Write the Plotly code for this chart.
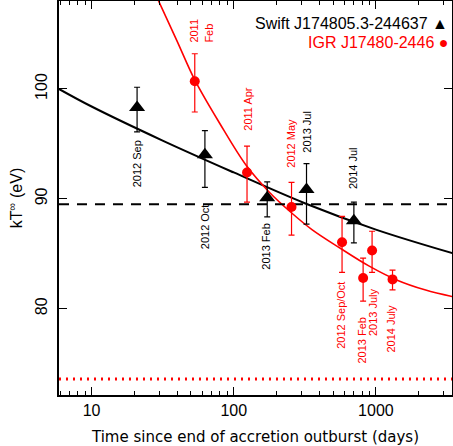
import math
import plotly.graph_objects as go

# ---- data ----
swift_days = [20.9, 62.7, 172, 325, 700]
swift_kT = [98.3, 94.0, 90.1, 90.85, 88.0]
swift_err_plus = [1.85, 2.2, 1.45, 2.35, 1.7]
swift_err_minus = [2.2, 2.95, 1.75, 3.15, 2.0]
swift_labels = ["2012 Sep", "2012 Oct", "2013 Feb", "2013 Jul", "2014 Jul"]

igr_days = [53.2, 124, 255, 578, 813, 940, 1309]
igr_kT = [100.7, 92.4, 89.25, 86.05, 82.8, 85.3, 82.67]
igr_err_plus = [2.5, 2.4, 2.25, 2.35, 1.8, 1.75, 0.85]
igr_err_minus = [2.8, 2.7, 2.55, 2.75, 2.1, 2.0, 0.95]
igr_labels = ["2011<br>Feb", "2011 Apr", "2012 May", "2012 Sep/Oct", "2013 Feb", "2013 July", "2014 July"]

# fitted cooling curves
swift_fit_days = [5.89, 10, 31.6, 100, 316, 1000, 3467]
swift_fit_kT = [100.0, 98.4, 95.3, 92.4, 89.6, 87.2, 85.05]
igr_fit_days = [28.2, 39.8, 53.3, 79.4, 123, 178, 251, 355, 562, 891, 1413, 2239, 3467]
igr_fit_kT = [108.6, 104.4, 100.8, 96.9, 93.0, 90.6, 88.8, 87.2, 85.5, 83.9, 82.6, 81.7, 81.1]

swift_base_kT = 89.5   # dashed line
igr_base_kT = 73.6     # dotted line
x_range_days = [5.9, 3430]
y_range = [72.15, 108.0]
x_ticks = [10, 100, 1000]
y_ticks = [80, 90, 100]

# label centre positions (days, kT)
swift_label_pos = [(20.9, 93.15), (62.7, 87.5), (170, 85.6), (330, 96.15), (690, 92.8)]
igr_label_pos = [(58.8, 105.3), (126, 98.2), (255, 95.06), (573, 79.4), (805, 77.06), (955, 79.7), (1288, 78.15)]

BLACK = "#000000"
RED = "#ff0000"
FONT = "Liberation Sans, Arial"

fig = go.Figure()

# fit curves
fig.add_trace(go.Scatter(x=swift_fit_days, y=swift_fit_kT, mode="lines",
                         line=dict(color=BLACK, width=2, shape="spline"),
                         showlegend=False, hoverinfo="skip"))
fig.add_trace(go.Scatter(x=igr_fit_days, y=igr_fit_kT, mode="lines",
                         line=dict(color=RED, width=1.6, shape="spline"),
                         showlegend=False, hoverinfo="skip"))
# base lines
fig.add_trace(go.Scatter(x=x_range_days, y=[swift_base_kT] * 2, mode="lines",
                         line=dict(color=BLACK, width=2, dash="10px,8px"),
                         showlegend=False, hoverinfo="skip"))
fig.add_trace(go.Scatter(x=x_range_days, y=[igr_base_kT] * 2, mode="lines",
                         line=dict(color=RED, width=3, dash="2px,5px"),
                         showlegend=False, hoverinfo="skip"))

# data points
fig.add_trace(go.Scatter(x=swift_days, y=swift_kT, mode="markers",
                         marker=dict(symbol="triangle-up", size=14, color=BLACK),
                         error_y=dict(type="data", symmetric=False, array=swift_err_plus,
                                      arrayminus=swift_err_minus, color=BLACK,
                                      thickness=1.2, width=3),
                         showlegend=False))
fig.add_trace(go.Scatter(x=igr_days, y=igr_kT, mode="markers",
                         marker=dict(symbol="circle", size=10, color=RED),
                         error_y=dict(type="data", symmetric=False, array=igr_err_plus,
                                      arrayminus=igr_err_minus, color=RED,
                                      thickness=1.2, width=3),
                         showlegend=False))

ann = []
for (x, y), t in zip(swift_label_pos, swift_labels):
    ann.append(dict(x=math.log10(x), y=y, xref="x", yref="y", text=t, showarrow=False,
                    textangle=-90, font=dict(size=11, color=BLACK, family=FONT)))
for (x, y), t in zip(igr_label_pos, igr_labels):
    ann.append(dict(x=math.log10(x), y=y, xref="x", yref="y", text=t, showarrow=False,
                    textangle=-90, align="left",
                    font=dict(size=11, color=RED, family=FONT)))

# legend as text
ann.append(dict(x=1.0, y=0.943, xref="paper", yref="paper", xanchor="right", yanchor="middle",
                xshift=-2,
                text="Swift J174805.3-244637 \u25b2", showarrow=False,
                font=dict(size=16, color=BLACK, family=FONT)))
ann.append(dict(x=1.0, y=0.895, xref="paper", yref="paper", xanchor="right", yanchor="middle",
                xshift=-2,
                text="IGR J17480-2446 \u25cf", showarrow=False,
                font=dict(size=16, color=RED, family=FONT)))

minor_vals = [m * 10 ** e for e in range(0, 4) for m in range(2, 10)]

fig.update_layout(
    width=453, height=446,
    margin=dict(l=59, r=1, t=1, b=51),
    paper_bgcolor="white", plot_bgcolor="white",
    annotations=ann,
    font=dict(family=FONT, color=BLACK),
    xaxis=dict(type="log", range=[0.7709, 3.5353], automargin=False,
               tickvals=x_ticks, ticktext=[str(v) for v in x_ticks],
               ticks="inside", ticklen=8, tickwidth=1.2, tickcolor=BLACK,
               minor=dict(tickvals=minor_vals, ticks="inside", ticklen=4,
                          tickwidth=1.2, tickcolor=BLACK, showgrid=False),
               showline=True, linecolor=BLACK, linewidth=1.5, mirror="ticks",
               showgrid=False, zeroline=False,
               tickfont=dict(size=16),
               title=dict(text="Time since end of accretion outburst (days)",
                          font=dict(size=15, family="DejaVu Sans"), standoff=14)),
    yaxis=dict(range=y_range, tickvals=y_ticks, automargin=False,
               ticks="inside", ticklen=8, tickwidth=1.2, tickcolor=BLACK,
               showline=True, linecolor=BLACK, linewidth=1.5, mirror="ticks",
               showgrid=False, zeroline=False, tickangle=-90,
               ticklabelstandoff=4,
               tickfont=dict(size=16),
               title=dict(text="kT<sup>\u221e</sup> (eV)", font=dict(size=16), standoff=6)),
)

fig.write_html("out.html", config={"displayModeBar": False},
               post_script="document.body.style.margin='0';document.body.style.padding='0';")
